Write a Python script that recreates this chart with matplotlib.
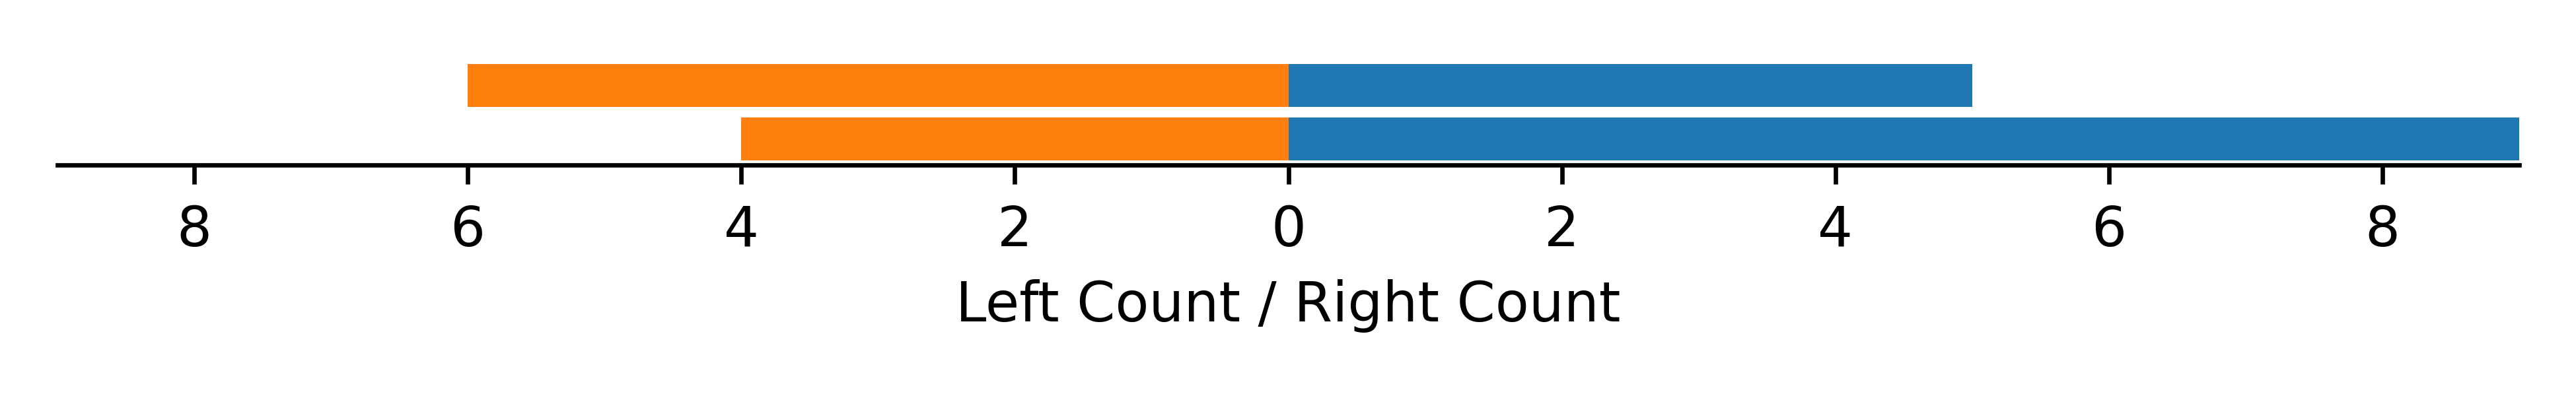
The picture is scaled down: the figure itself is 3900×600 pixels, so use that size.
import matplotlib.pyplot as plt
import numpy as np
from matplotlib.ticker import FuncFormatter, MultipleLocator

# rows from bottom to top
rows = ['row 1', 'row 2']
left_count = [4, 6]
right_count = [9, 5]

fig = plt.figure(figsize=(6.5, 1), dpi=600)
ax = fig.add_subplot(111)

y = np.arange(len(rows))
ax.barh(y, [-v for v in left_count], color='tab:orange', label='Left')
ax.barh(y, right_count, color='tab:blue', label='Right')

ax.set_xlim(-9, 9)
ax.xaxis.set_major_locator(MultipleLocator(2))
ax.xaxis.set_major_formatter(FuncFormatter(lambda v, pos: f'{abs(v):g}'))
ax.set_xlabel('Left Count / Right Count')

ax.set_yticks([])
ax.spines['left'].set_visible(False)
ax.spines['right'].set_visible(False)
ax.spines['top'].set_visible(False)

fig.subplots_adjust(left=0.0223, right=0.978, bottom=0.583, top=0.851)
plt.savefig('out.png')
